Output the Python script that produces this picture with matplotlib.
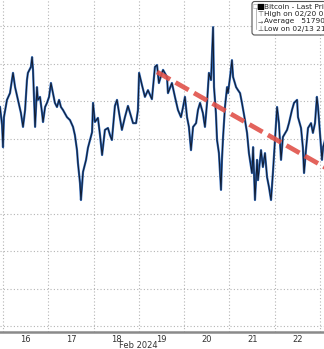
import numpy as np
import matplotlib
matplotlib.use("Agg")
import matplotlib.pyplot as plt
from matplotlib.patches import FancyBboxPatch

# ─── Data: Bitcoin last price, hours since 16 Feb 2024 00:00 ─────────────────

hours = [
    -1.6, -0.5, 0.0, 0.5, 2.1, 3.7, 5.3, 6.4, 7.9, 9.5, 10.6, 11.7, 12.7, 13.2,
    14.8, 15.4, 15.9, 17.0, 18.0, 18.5, 19.6, 20.7, 21.2, 22.3, 23.3, 24.4,
    25.4, 26.5, 27.5, 28.6, 29.7, 30.7, 31.8, 33.9, 35.5, 37.1, 38.1, 39.2,
    39.7, 40.8, 41.3, 41.9, 42.4, 44.0, 45.0, 47.2, 47.7, 48.7, 50.3, 51.4,
    52.5, 54.0, 55.6, 56.7, 57.7, 59.3, 60.4, 61.5, 63.0, 64.6, 66.2, 67.3,
    68.9, 70.5, 71.5, 72.1, 73.6, 75.2, 76.8, 78.9, 80.5, 81.6, 82.6, 84.2,
    84.8, 86.9, 87.4, 89.5, 91.1, 92.7, 94.3, 95.4, 96.4, 97.5, 98.5, 99.6,
    100.7, 102.3, 103.3, 104.4, 105.9, 107.0, 108.1, 109.1, 110.2, 111.3,
    111.8, 112.8, 113.4, 114.4, 115.5, 116.0, 116.6, 117.6, 118.7, 119.2,
    120.3, 121.3, 121.9, 123.5, 124.5, 125.6, 126.6, 128.2, 129.3, 130.3,
    131.9, 132.5, 133.5, 134.6, 135.1, 136.7, 137.7, 138.8, 139.9, 140.9,
    142.0, 143.0, 144.1, 145.2, 146.2, 147.3, 148.3, 150.5, 151.5, 153.1,
    154.2, 155.8, 156.3, 157.9, 158.9, 159.5, 160.5, 161.6, 163.2, 164.2,
    165.3, 166.3, 166.9, 167.9, 169.0, 169.6, 170.6,
]

prices = [
    51920, 51680, 51385, 51785, 52015, 52105, 52375, 52185, 52015, 51840,
    51655, 51880, 52280, 52375, 52455, 52585, 52415, 51655, 52185, 52015,
    52055, 51840, 51720, 51920, 51975, 52055, 52240, 52105, 51975, 51920,
    52015, 51920, 51880, 51785, 51745, 51655, 51545, 51345, 51175, 50905,
    50680, 50880, 51055, 51215, 51375, 51585, 51975, 51720, 51775, 51545,
    51280, 51615, 51640, 51545, 51480, 51935, 52015, 51840, 51615, 51785,
    51935, 51840, 51705, 51705, 51880, 52375, 52215, 52055, 52145, 52025,
    52455, 52480, 52240, 52375, 52415, 52320, 52105, 52240, 52055, 51880,
    51785, 51920, 52055, 51785, 51655, 51345, 51655, 51705, 51880, 51975,
    51840, 51655, 51975, 52375, 52280, 52985, 52185, 51840, 51480, 51305,
    50815, 51215, 51520, 51920, 52185, 52105, 52320, 52545, 52320, 52185,
    52145, 52105, 51975, 51745, 51575, 51305, 51040, 51385, 50680, 51215,
    50945, 51345, 51120, 51305, 50985, 50855, 50680, 51040, 51480, 51920,
    51705, 51215, 51520, 51615, 51705, 51880, 51975, 52015, 51785, 51640,
    51375, 51040, 51345, 51640, 51705, 51575, 51705, 52055, 51920, 51575,
    51215, 51385, 51480,
]

# red dashed trend line (hours, price)
trend_hours = [81.6, 172.0]
trend_prices = [52387, 51095]

day_labels = ["16", "17", "18", "19", "20", "21", "22"]
legend_labels = [
    "Bitcoin - Last Price (USD)",
    "High on 02/20 02:45   52985.00",
    "Average   51790.12",
    "Low on 02/13 21:00   48400.00",
]

# ─── Style ───────────────────────────────────────────────────────────────────

GRID = "#b4b4b4"
LINE_DARK = "#111a2c"
LINE_BLUE = "#2f68b8"
TREND = "#e0524a"

fig = plt.figure(figsize=(3.24, 3.49), dpi=100)
ax = fig.add_axes([0.0, 17 / 349, 1.0, 332 / 349])

ax.plot(hours, prices, color=LINE_BLUE, lw=1.6, zorder=3)
ax.plot(hours, prices, color=LINE_DARK, lw=0.7, zorder=4)
ax.plot(trend_hours, trend_prices, color=TREND, lw=3.4, dashes=(3.2, 1.3),
        dash_capstyle="butt", alpha=0.9, zorder=5)

ax.set_xlim(-1.59, 170.07)
ax.set_ylim(48920, 53347)

# grid on day boundaries and every 500 USD
ax.set_xticks(np.arange(0, 169, 24))
ax.set_xticks(np.arange(12, 169, 24), minor=True)
ax.set_xticklabels([])
ax.set_xticklabels(day_labels, minor=True)
ax.set_yticks(np.arange(49000, 53001, 500))
ax.set_yticklabels([])
ax.grid(True, which="major", color=GRID, lw=0.8, linestyle=(0, (1, 2)))
ax.tick_params(axis="x", which="both", length=0, pad=2.5,
               labelsize=6, labelcolor="#333333")
ax.tick_params(axis="y", length=0)

for s in ("top", "right", "left"):
    ax.spines[s].set_visible(False)
ax.spines["bottom"].set_color("#8a8a8a")
ax.spines["bottom"].set_linewidth(1.8)

fig.text(138 / 324, 1 - 346 / 349, "Feb 2024", ha="center", va="center",
         fontsize=6, color="#333333")

# ─── Legend box (clipped by figure edge like the original) ──────────────────

W, H = 324.0, 349.0
box = FancyBboxPatch((252 / W, 1 - 35 / H), 110 / W, 33.5 / H,
                     boxstyle="round,pad=0,rounding_size=0.008",
                     transform=fig.transFigure, facecolor="white",
                     edgecolor="#555555", lw=0.8, zorder=10)
fig.patches.append(box)

rows_y = [6.5, 14.0, 21.5, 29.0]
fig.lines.append(plt.Line2D([256 / W, 256 / W], [1 - 8 / H, 1 - 29 / H],
                            transform=fig.transFigure, color="#a0a0a0", lw=0.5,
                            zorder=11))
fig.text(255 / W, 1 - rows_y[0] / H, "\u25a1", fontsize=4, color="#9a9a9a",
         ha="center", va="center", zorder=12)
fig.text(260 / W, 1 - rows_y[0] / H, "\u25a0", fontsize=6, color="black",
         ha="center", va="center", zorder=12)
fig.text(260 / W, 1 - rows_y[1] / H, "\u22a4", fontsize=5, color="#555555",
         ha="center", va="center", zorder=12)
fig.text(260 / W, 1 - rows_y[2] / H, "\u2192", fontsize=4.5, color="#555555",
         ha="center", va="center", zorder=12)
fig.text(260 / W, 1 - rows_y[3] / H, "\u22a5", fontsize=5, color="#555555",
         ha="center", va="center", zorder=12)
for y, lab in zip(rows_y, legend_labels):
    fig.text(264 / W, 1 - y / H, lab, fontsize=5.3, color="#222222",
             ha="left", va="center", zorder=12)

fig.savefig("out.png", dpi=100, facecolor="white")
